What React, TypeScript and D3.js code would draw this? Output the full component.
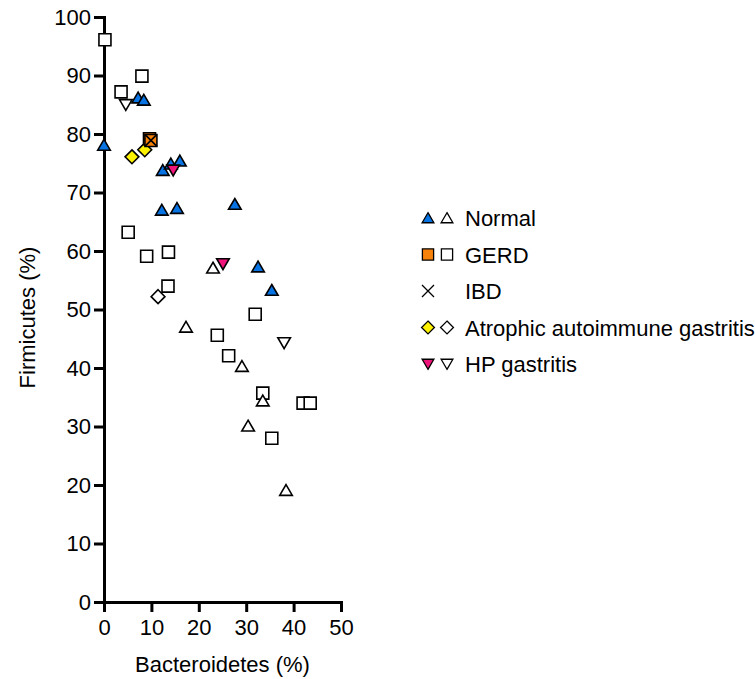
import React, { useRef, useEffect } from 'react';
import * as d3 from 'd3';

// ==================== DATA ====================
// [Bacteroidetes %, Firmicutes %]
const normalFilled: [number, number][] = [
  [0, 78.1], [7.2, 86.2], [8.4, 85.8], [12.4, 73.8], [14.1, 74.9], [16.0, 75.4],
  [12.2, 67.0], [15.4, 67.3], [27.6, 68.0], [32.5, 57.3], [35.4, 53.3],
];
const normalOpen: [number, number][] = [
  [23.0, 57.1], [17.3, 47.0], [29.1, 40.3], [33.5, 34.4], [30.4, 30.1], [38.4, 19.1],
];
const gerdFilled: [number, number][] = [[9.6, 79.2], [9.9, 78.9]];
const gerdOpen: [number, number][] = [
  [0.2, 96.1], [8.0, 89.9], [3.6, 87.2], [5.1, 63.2], [9.0, 59.1], [13.6, 59.8],
  [13.5, 54.0], [31.9, 49.2], [23.9, 45.6], [26.3, 42.1], [33.5, 35.7],
  [42.0, 34.0], [43.5, 34.0], [35.4, 28.0],
];
const ibdPoints: [number, number][] = [[9.9, 78.9]];
const atrophicFilled: [number, number][] = [[5.9, 76.1], [8.6, 77.3]];
const atrophicOpen: [number, number][] = [[11.4, 52.2]];
const hpFilled: [number, number][] = [[14.6, 73.8], [25.1, 57.8]];
const hpOpen: [number, number][] = [[4.6, 85.0], [38.0, 44.3]];

const xTicks = [0, 10, 20, 30, 40, 50];
const yTicks = [0, 10, 20, 30, 40, 50, 60, 70, 80, 90, 100];

const legendLabels = ['Normal', 'GERD', 'IBD', 'Atrophic autoimmune gastritis', 'HP gastritis'];

// ==================== STYLE ====================
const COLORS = {
  blue: '#0873E3',
  orange: '#F7820A',
  yellow: '#FFF200',
  pink: '#EE1479',
  open: '#FFFFFF',
  ink: '#000000',
};
const FONT = "'Liberation Sans', Arial, sans-serif";

// marker paths centred on 0,0
const shapes: Record<string, (s: number) => string> = {
  triUp: s => `M0,${-s * 0.95} L${s * 1.05},${s * 0.85} L${-s * 1.05},${s * 0.85} Z`,
  triDown: s => `M0,${s * 0.95} L${s * 1.05},${-s * 0.85} L${-s * 1.05},${-s * 0.85} Z`,
  square: s => `M${-s},${-s} H${s} V${s} H${-s} Z`,
  diamond: s => `M0,${-s * 1.15} L${s * 1.15},0 L0,${s * 1.15} L${-s * 1.15},0 Z`,
  cross: s => `M${-s},${-s} L${s},${s} M${s},${-s} L${-s},${s}`,
};

const App = () => {
  const svgRef = useRef<SVGSVGElement | null>(null);

  useEffect(() => {
    const svg = d3.select(svgRef.current);
    svg.selectAll('*').remove();

    const x = d3.scaleLinear().domain([0, 50]).range([104, 341]);
    const y = d3.scaleLinear().domain([0, 100]).range([602, 17]);

    // axes
    const xAxis = svg.append('g')
      .attr('transform', `translate(0,${y(0)})`)
      .call(d3.axisBottom(x).tickValues(xTicks).tickSize(10).tickSizeOuter(0).tickPadding(7));
    const yAxis = svg.append('g')
      .attr('transform', `translate(${x(0)},0)`)
      .call(d3.axisLeft(y).tickValues(yTicks).tickSize(10).tickSizeOuter(0).tickPadding(3));

    [xAxis, yAxis].forEach(ax => {
      ax.select('.domain').attr('stroke', COLORS.ink).attr('stroke-width', 3).attr('stroke-linecap', 'square');
      ax.selectAll('.tick line').attr('stroke', COLORS.ink).attr('stroke-width', 3);
      ax.selectAll('.tick text')
        .attr('font-family', FONT)
        .attr('font-size', 22)
        .attr('fill', COLORS.ink);
    });

    svg.append('text')
      .attr('x', (x(0) + x(50)) / 2)
      .attr('y', 672)
      .attr('text-anchor', 'middle')
      .attr('font-family', FONT)
      .attr('font-size', 22)
      .text('Bacteroidetes (%)');

    svg.append('text')
      .attr('transform', `translate(35,${(y(0) + y(100)) / 2 + 8}) rotate(-90)`)
      .attr('text-anchor', 'middle')
      .attr('font-family', FONT)
      .attr('font-size', 22)
      .text('Firmicutes (%)');

    // points
    const plot = svg.append('g');
    const drawSet = (pts: [number, number][], shape: string, fill: string, size = 6) => {
      plot.selectAll(null)
        .data(pts)
        .enter()
        .append('path')
        .attr('transform', d => `translate(${x(d[0])},${y(d[1])})`)
        .attr('d', shapes[shape](size))
        .attr('fill', shape === 'cross' ? 'none' : fill)
        .attr('stroke', COLORS.ink)
        .attr('stroke-width', 1.6)
        .attr('stroke-linejoin', 'miter');
    };

    drawSet(gerdOpen, 'square', COLORS.open);
    drawSet(normalOpen, 'triUp', COLORS.open);
    drawSet(hpOpen, 'triDown', COLORS.open);
    drawSet(atrophicOpen, 'diamond', COLORS.open);
    drawSet(normalFilled, 'triUp', COLORS.blue);
    drawSet(atrophicFilled, 'diamond', COLORS.yellow);
    drawSet(gerdFilled, 'square', COLORS.orange);
    drawSet(ibdPoints, 'cross', COLORS.ink);
    drawSet(hpFilled, 'triDown', COLORS.pink);

    // legend
    const legendItems = [
      { shape: 'triUp', filled: COLORS.blue, open: true },
      { shape: 'square', filled: COLORS.orange, open: true },
      { shape: 'cross', filled: 'none', open: false },
      { shape: 'diamond', filled: COLORS.yellow, open: true },
      { shape: 'triDown', filled: COLORS.pink, open: true },
    ];
    const legend = svg.append('g');
    const rowY = d3.scaleLinear().domain([0, 4]).range([218, 364]);
    legendItems.forEach((item, i) => {
      const row = legend.append('g').attr('transform', `translate(0,${rowY(i)})`);
      const s = item.shape === 'cross' ? 6 : 5.6;
      row.append('path')
        .attr('transform', 'translate(428,0)')
        .attr('d', shapes[item.shape](s))
        .attr('fill', item.filled)
        .attr('stroke', COLORS.ink)
        .attr('stroke-width', 1.3);
      if (item.open) {
        row.append('path')
          .attr('transform', 'translate(447,0)')
          .attr('d', shapes[item.shape](s))
          .attr('fill', COLORS.open)
          .attr('stroke', COLORS.ink)
          .attr('stroke-width', 1.3);
      }
      row.append('text')
        .attr('x', 465)
        .attr('y', 8)
        .attr('font-family', FONT)
        .attr('font-size', 22)
        .text(legendLabels[i]);
    });
  }, []);

  return (
    <svg
      ref={svgRef}
      width={755}
      height={679}
      style={{ position: 'absolute', left: 0, top: 0, background: '#fff' }}
    />
  );
};

export default App;
